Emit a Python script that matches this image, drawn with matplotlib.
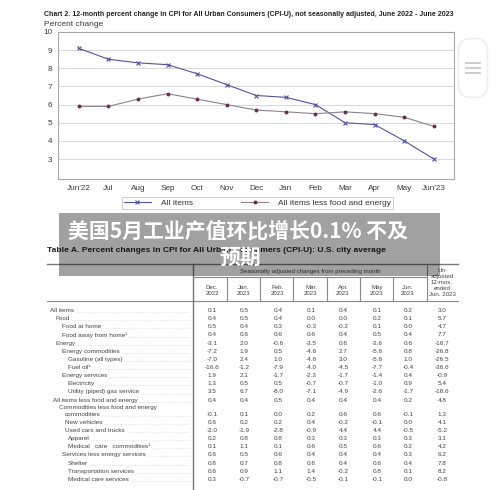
import matplotlib.pyplot as plt
from matplotlib.patches import Rectangle, FancyBboxPatch

# chart data (12-month percent change)
months = ["Jun'22", "Jul", "Aug", "Sep", "Oct", "Nov", "Dec", "Jan", "Feb", "Mar", "Apr", "May", "Jun'23"]
all_items = [9.1, 8.5, 8.3, 8.2, 7.7, 7.1, 6.5, 6.4, 6.0, 5.0, 4.9, 4.0, 3.0]
core_items = [5.9, 5.9, 6.3, 6.6, 6.3, 6.0, 5.7, 5.6, 5.5, 5.6, 5.5, 5.3, 4.8]

# table data
col_heads = ["Dec.\n2022", "Jan.\n2023", "Feb.\n2023", "Mar.\n2023", "Apr.\n2023", "May\n2023", "Jun.\n2023",
             "Un-\nadjusted\n12-mos.\nended\nJun. 2023"]
row_labels = ["All items", "Food", "Food at home", "Food away from home\u00b9", "Energy",
              "Energy commodities", "Gasoline (all types)", "Fuel oil\u00b9", "Energy services",
              "Electricity", "Utility (piped) gas service", "All items less food and energy",
              "Commodities less food and energy", "commodities", "New vehicles", "Used cars and trucks",
              "Apparel", "Medical   care   commodities\u00b9", "Services less energy services", "Shelter",
              "Transportation services", "Medical care services"]
row_indent = [0, 1, 2, 2, 1, 2, 3, 3, 2, 3, 3, 0.5, 1.5, 2.5, 2.5, 2.5, 3, 3, 2, 3, 3, 3]
row_values = [
    [0.1, 0.5, 0.4, 0.1, 0.4, 0.1, 0.2, 3.0],
    [0.4, 0.5, 0.4, 0.0, 0.0, 0.2, 0.1, 5.7],
    [0.5, 0.4, 0.3, -0.3, -0.2, 0.1, 0.0, 4.7],
    [0.4, 0.6, 0.6, 0.6, 0.4, 0.5, 0.4, 7.7],
    [-3.1, 2.0, -0.6, -3.5, 0.6, -3.6, 0.6, -16.7],
    [-7.2, 1.9, 0.5, -4.6, 2.7, -5.6, 0.8, -26.8],
    [-7.0, 2.4, 1.0, -4.6, 3.0, -5.6, 1.0, -26.5],
    [-16.6, -1.2, -7.9, -4.0, -4.5, -7.7, -0.4, -36.6],
    [1.9, 2.1, -1.7, -2.3, -1.7, -1.4, 0.4, -0.9],
    [1.3, 0.5, 0.5, -0.7, -0.7, -1.0, 0.9, 5.4],
    [3.5, 6.7, -8.0, -7.1, -4.9, -2.6, -1.7, -18.6],
    [0.4, 0.4, 0.5, 0.4, 0.4, 0.4, 0.2, 4.8],
    None,
    [-0.1, 0.1, 0.0, 0.2, 0.6, 0.6, -0.1, 1.3],
    [0.6, 0.2, 0.2, 0.4, -0.2, -0.1, 0.0, 4.1],
    [-2.0, -1.9, -2.8, -0.9, 4.4, 4.4, -0.5, -5.2],
    [0.2, 0.8, 0.8, 0.3, 0.3, 0.3, 0.3, 3.1],
    [0.1, 1.1, 0.1, 0.6, 0.5, 0.6, 0.2, 4.2],
    [0.6, 0.5, 0.6, 0.4, 0.4, 0.4, 0.3, 6.2],
    [0.8, 0.7, 0.8, 0.6, 0.4, 0.6, 0.4, 7.8],
    [0.6, 0.9, 1.1, 1.4, -0.2, 0.8, 0.1, 8.2],
    [0.3, -0.7, -0.7, -0.5, -0.1, -0.1, 0.0, -0.8],
]

headline = ["美国5月工业产值环比增长0.1% 不及", "预期"]

W, H = 500, 490
plt.rcParams['font.family'] = ['Liberation Sans', 'DejaVu Sans']
fig = plt.figure(figsize=(W / 100, H / 100), dpi=100)

# background axes in pixel coordinates
bg = fig.add_axes([0, 0, 1, 1])
bg.set_xlim(0, W)
bg.set_ylim(H, 0)
bg.axis('off')

# ---- chart ----
L, R, T, B = 58, 454, 32, 179
ax = fig.add_axes([L / W, 1 - B / H, (R - L) / W, (B - T) / H])
x = list(range(len(months)))
l1, = ax.plot(x, all_items, color='#5252a8', lw=0.8, marker='x', ms=3.2, mew=0.8, label='All items')
l2, = ax.plot(x, core_items, color='#8e8290', lw=0.8, marker='o', ms=1.8, mfc='#6e2c4e', mec='#6e2c4e',
              label='All items less food and energy')
ax.set_xlim(-0.7, 12.68)
ax.set_ylim(1.9, 10)
ax.set_yticks(range(3, 11))
ax.set_xticks(x)
ax.set_xticklabels(months)
ax.tick_params(length=0, labelsize=5.9, labelcolor='#3a3a3a', pad=4)
ax.grid(axis='y', color='#d8d8d8', lw=0.7)
ax.set_axisbelow(True)
for s in ax.spines.values():
    s.set_color('#a8a8a8')
    s.set_linewidth(0.8)

bg.text(44, 15, "Chart 2. 12-month percent change in CPI for All Urban Consumers (CPI-U), not seasonally adjusted, "
        "June 2022 - June 2023", fontsize=5.05, fontweight='bold', color='#222222', va='center')
bg.text(44, 24, "Percent change", fontsize=6.0, color='#3a3a3a', va='center')

leg = fig.legend(handles=[l1, l2], loc='lower left', ncol=2, mode='expand',
                 bbox_to_anchor=(122 / W, 1 - 209 / H, (393 - 122) / W, 12 / H),
                 fontsize=6.0, frameon=True, fancybox=False, borderpad=0.25,
                 handlelength=3.2, handletextpad=1.2, borderaxespad=0)
leg.get_frame().set_edgecolor('#c0c0c0')
leg.get_frame().set_linewidth(0.7)
for t in leg.get_texts():
    t.set_color('#333333')

# floating menu button
bg.add_patch(FancyBboxPatch((460, 40), 26, 56, boxstyle='round,pad=1.5,rounding_size=13',
                            fc='white', ec='#f0f0f0', lw=1.2, zorder=2))
for yy in (63.3, 68.3, 72.8):
    bg.plot([466, 480], [yy, yy], color='#cccccc', lw=1.3, zorder=3)

# ---- table ----
bg.text(47, 250, "Table A. Percent changes in CPI for All Urban Consumers (CPI-U): U.S. city average",
        fontsize=6.1, fontweight='bold', color='#222222', va='center')
line_kw = dict(color='#888888', lw=0.8)
bg.plot([47, 458], [264, 264], color='#777777', lw=1.0)
bg.plot([47, 458], [300.5, 300.5], **line_kw)
bg.plot([193, 193], [264, 490], color='#777777', lw=1.0)
bg.plot([427, 427], [264, 300.5], **line_kw)
bg.plot([193, 427], [277, 277], **line_kw)
col_x = [212, 244, 278, 311, 343, 377, 408, 442]
for xs in [227, 260, 293, 327, 360, 393]:
    bg.plot([xs, xs], [277, 300.5], **line_kw)
bg.text(310, 271.5, "Seasonally adjusted changes from preceding month", fontsize=4.4, color='#444444',
        ha='center', va='center')
for cx, head in zip(col_x, col_heads):
    cy = 290 if head.count('\n') == 1 else 282
    bg.text(cx, cy, head, fontsize=4.4, color='#444444', ha='center', va='center', linespacing=1.25)

row_y = []
y = 310.5
for i, lab in enumerate(row_labels):
    row_y.append(y)
    if i == 11:
        y += 7.2
    elif i == 12:
        y += 6.8
    else:
        y += 8.15

label_texts = []
for lab, ind, yy, vals in zip(row_labels, row_indent, row_y, row_values):
    t = bg.text(50 + ind * 6, yy, lab, fontsize=4.6, color='#444444', va='center')
    if vals is not None:
        label_texts.append((t, yy))
        for cx, v in zip(col_x, vals):
            bg.text(cx, yy, f"{v:.1f}", fontsize=4.6, color='#444444', ha='center', va='center')

# dotted leaders
fig.canvas.draw()
r = fig.canvas.get_renderer()
for t, yy in label_texts:
    bb = t.get_window_extent(r)
    x_end = bg.transData.inverted().transform((bb.x1, 0))[0]
    bg.plot([x_end + 1.5, 190], [yy + 1.6, yy + 1.6], color='#999999', lw=0.45,
            linestyle=(0, (0.5, 2.0)))

# ---- headline overlay ----
bg.add_patch(Rectangle((59, 213), 381, 63, fc='black', alpha=0.37, ec='none', zorder=10))
bg.text(238, 231, headline[0], fontsize=15, fontweight='bold', color='white', ha='center', va='center',
        family=['Noto Sans CJK SC', 'DejaVu Sans'], zorder=11)
bg.text(240, 257, headline[1], fontsize=15, fontweight='bold', color='white', ha='center', va='center',
        family=['Noto Sans CJK SC', 'DejaVu Sans'], zorder=11)

fig.savefig('out.png', dpi=100)
